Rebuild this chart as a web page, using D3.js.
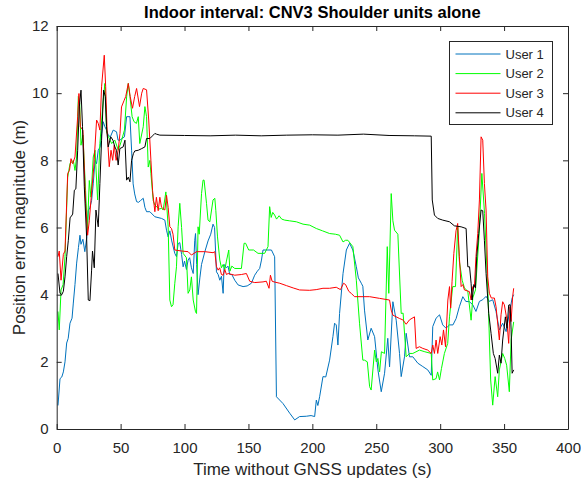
<html>
<head>
<script src="https://d3js.org/d3.v7.min.js"></script>
<style>
body { margin: 0; background: white; }
text { font-family: 'Liberation Sans', Arial, sans-serif; fill: #262626; }
</style>
</head>
<body>
<svg id="chart" width="581" height="480"></svg>
<script>
// [time (s), position error (m)]
const user1 = [[1,0.7],[2.6,1.5],[4,1.55],[5.2,1.7],[6.5,2.0],[7.8,2.56],[9,2.7],[10.4,3.15],[12,3.3],[13,3.75],[14.3,4.3],[15.6,4.94],[17,5.4],[18.2,5.77],[19,5.5],[20.5,5.65],[22,5.28],[23.5,5.7],[24.7,6.5],[26,6.6],[27.3,6.8],[28.6,7.3],[30,8.0],[31.2,7.9],[32.5,8.3],[34,8.4],[35.2,8.8],[36.4,9.15],[37.7,9.0],[39,8.9],[40.3,8.75],[42,8.7],[44.2,8.9],[46.8,8.85],[48,8.6],[49.5,8.6],[51,8.65],[53,8.7],[54.7,9.3],[57.3,9.3],[58.6,8.3],[59.8,7.3],[61,7.0],[62.5,6.77],[64,6.75],[65.5,6.8],[67.7,6.87],[69,6.6],[70.3,6.47],[72.9,6.47],[76.8,6.32],[82,6.27],[84.6,6.22],[85.9,5.92],[87.2,5.72],[88.5,5.9],[90,5.6],[92.4,5.23],[93.7,5.13],[95,5.52],[96.3,5.55],[97.7,5.2],[98.9,4.83],[100,5.0],[101.5,4.75],[102.8,5.03],[104,5.1],[105.4,4.8],[106.8,4.63],[108,5.62],[108.6,5.82],[109.5,4.9],[110.6,4.0],[112,4.5],[113.3,4.9],[115.9,5.28],[118.4,5.6],[120.5,5.8],[122.3,6.1],[123.5,6.0],[125,4.68],[126.3,4.6],[127.6,4.43],[128.9,4.55],[130.2,4.04],[131,4.9],[132.8,4.8],[134,4.85],[135.4,4.6],[137,4.6],[139.3,4.43],[141.9,4.29],[145.8,4.24],[149,4.26],[152.3,4.34],[154.9,4.58],[157,4.7],[158.8,4.78],[160.2,5.03],[161.4,5.33],[164,5.33],[168,5.33],[170.5,5.13],[171.9,0.96],[177,0.76],[182.3,0.47],[186.2,0.27],[190,0.37],[195.3,0.38],[199,0.4],[201.8,0.37],[203.1,0.86],[204.3,0.7],[205.7,0.96],[208.3,1.56],[210.5,1.55],[213.5,2.05],[216.1,2.75],[217.4,3.15],[218.7,3.1],[220,2.5],[221.3,3.44],[224,4.63],[226.6,5.33],[229.1,5.53],[231.7,5.33],[234.4,4.83],[236,4.5],[238.3,4.34],[239.5,4.25],[240.8,3.54],[243.4,2.65],[246,3.0],[248.7,2.75],[251.3,1.76],[253.9,1.11],[256.5,1.66],[259,2.7],[260.4,1.85],[263,3.79],[265.6,3.24],[268.2,2.25],[269.5,1.56],[272.1,2.15],[273.4,2.85],[276,2.15],[278.6,2.15],[282.5,1.96],[286.4,1.86],[290.3,1.76],[293,1.6],[294.2,3.05],[296.8,3.3],[299.5,3.4],[302,3.1],[304.6,3.0],[307.3,3.1],[310,3.1],[312.5,3.29],[315,3.64],[317.7,3.94],[320,3.8],[322.9,3.79],[325.5,3.7],[328,3.5],[330.7,3.8],[333.3,3.85],[335.9,3.95],[338.5,3.8],[341.1,3.85],[343.7,3.5],[346.3,2.95],[348.9,3.15],[351.6,2.9],[354.1,3.45],[356.3,3.9],[357.5,4.0]];

const user2 = [[1,3.5],[2,2.95],[3.4,4.14],[5,4.3],[6.5,5.13],[8.6,7.5],[10.4,7.9],[13,8.0],[14.3,7.7],[15.6,8.1],[16.9,9.9],[18,9.7],[19,8.45],[20.5,8.75],[22.6,7.1],[24,5.92],[25.5,7.4],[26.8,6.9],[28.6,8.1],[30,8.3],[32,6.82],[33.8,8.5],[36.4,9.79],[37.7,10.29],[39,8.85],[40.5,8.7],[43,8.5],[45.5,8.6],[48.2,8.3],[50.8,8.6],[53,8.9],[54.7,9.89],[56,10.29],[57.3,9.9],[59,9.3],[60.5,9.15],[62.4,9.1],[63.8,9.3],[65,8.5],[67.7,9.0],[69,9.6],[70.3,9.3],[71.6,7.8],[72.9,8.0],[73.7,7.6],[75.5,6.8],[76.8,6.67],[80,6.55],[82,6.57],[83.3,6.52],[85.4,7.06],[87.2,6.02],[88.5,3.84],[89.8,3.64],[91,3.7],[92.4,4.34],[93.7,4.83],[95,6.02],[96.3,6.72],[97.7,6.0],[98.9,5.23],[101.5,5.1],[102.8,4.04],[104.1,4.14],[105.4,4.53],[106.8,3.84],[108.6,3.49],[109.4,3.44],[110.6,6.02],[111.5,5.8],[113.3,7.01],[114.5,7.41],[115.3,7.41],[117.2,6.72],[118.4,6.22],[119.8,6.17],[122.3,6.82],[123.7,6.87],[124.5,6.5],[125.8,5.72],[127.6,5.03],[128.9,4.8],[130.2,4.9],[131.5,4.75],[132.8,5.0],[134.6,5.33],[135.5,4.7],[137,4.85],[139.3,4.78],[144.5,4.78],[146.6,5.53],[147.8,5.53],[150.2,5.33],[154,5.33],[157.5,5.23],[161.4,5.23],[162.7,5.23],[165.3,5.43],[166.6,6.62],[167.8,6.3],[169,6.45],[170.5,6.37],[172,6.25],[174,6.35],[176,6.25],[178.4,6.22],[182,6.2],[187.5,6.17],[192.7,6.1],[197.9,6.07],[203.1,5.97],[208,5.9],[213.5,5.82],[218,5.8],[221.3,5.77],[224,5.57],[226,5.62],[227.8,5.62],[231.7,5.43],[234.4,4.43],[236.9,3.15],[239.5,2.05],[240.8,2.05],[243,2.0],[244.8,1.26],[246,1.16],[248.7,2.35],[250,2.0],[251.3,2.1],[252.6,1.7],[254,2.3],[256.5,2.25],[258.6,5.43],[259.8,4.04],[261.7,7.01],[263,6.2],[264.3,5.92],[266.9,5.8],[269.5,3.44],[271,3.45],[273.4,2.15],[276,2.25],[278.6,2.25],[283.8,2.35],[288,2.3],[293,2.25],[294.2,1.46],[296.8,1.5],[298,1.7],[299.5,1.46],[301,1.8],[303.3,2.25],[305.9,2.55],[307.3,3.34],[309.8,4.24],[312,4.24],[313.7,6.02],[315,5.0],[317.2,4.43],[319,4.2],[321.6,4.1],[324.2,3.24],[325.5,3.9],[327.6,4.14],[330.2,5.62],[332.6,7.61],[334.7,6.42],[337.4,4.04],[339.5,1.46],[341.1,0.71],[343,1.56],[345,0.96],[346.3,1.76],[348.9,2.25],[350.5,2.1],[352,1.9],[354.1,1.11],[355.5,2.65],[357.5,3.19]];

const user3 = [[1,5.13],[2,5.3],[3.4,4.43],[5.2,5.2],[6.5,5.3],[8.6,7.61],[10,7.7],[11.2,8.05],[12.5,7.9],[14.3,8.1],[16.4,9.3],[17.4,9.99],[18.5,9.0],[20.5,8.9],[22.6,6.72],[24.2,5.77],[25.5,6.2],[27,6.9],[29,7.8],[31.2,9.2],[32.5,9.1],[33.8,8.9],[35.1,10.19],[37.2,11.13],[38.3,10.2],[39.4,8.9],[41.1,7.81],[42.5,8.3],[43.8,8.0],[45,8.45],[46.5,8.0],[48.1,8.3],[49.5,8.8],[50.7,9.59],[52.8,9.79],[54,9.9],[56,10.29],[57.5,9.9],[59.3,9.55],[61,9.9],[62.5,10.14],[64.8,9.6],[66.5,10.0],[67.7,10.14],[70.3,10.1],[72,9.2],[73.7,8.0],[75,7.1],[75.5,6.91],[76.8,6.47],[78,6.9],[79.4,6.5],[80.7,6.9],[82,6.6],[84.6,6.52],[85.9,6.96],[87.2,6.6],[88.5,6.02],[89.8,5.97],[91,5.8],[92.4,5.33],[97.7,5.3],[102.8,5.28],[105.4,5.18],[109.4,5.28],[115.9,5.28],[122.3,5.25],[123.7,5.28],[125,4.83],[126.3,4.73],[127.5,4.8],[128.9,4.6],[130.2,4.58],[131.5,4.75],[132.8,4.6],[134.1,4.63],[139.3,4.58],[144.5,4.6],[148.4,4.63],[151,4.4],[154.9,4.36],[161.4,4.38],[164,4.4],[166.1,4.19],[167.2,4.58],[168.5,4.4],[170,4.38],[174.5,4.34],[179.7,4.27],[185,4.2],[190,4.14],[197.9,4.13],[203,4.15],[208.3,4.19],[213.5,4.19],[218.7,4.22],[222,4.15],[224.4,4.34],[226,4.3],[228.5,4.1],[230.4,4.04],[233,3.94],[240,3.94],[244.8,3.94],[252.6,3.89],[260.4,3.84],[261.7,3.54],[263,3.39],[268.2,3.29],[270.8,3.25],[273.4,3.12],[276,3.25],[279.9,3.34],[281.2,2.4],[283.8,2.45],[286.4,2.4],[290.3,2.35],[293,2.25],[294.2,2.5],[295.5,2.25],[296.8,2.65],[298.1,2.25],[300,2.75],[301.3,2.5],[302.6,2.95],[304.2,2.45],[306,3.84],[307.3,4.24],[308.2,3.6],[309.3,4.4],[310.7,5.23],[312.4,5.9],[313.7,6.12],[315,5.13],[316.4,4.24],[317.7,4.3],[319,4.14],[322.9,4.09],[324.2,3.84],[325.5,4.24],[326.8,4.24],[328,5.13],[329.4,5.82],[330.7,6.82],[332,8.7],[333.3,8.6],[334.6,7.31],[335.9,6.52],[337.2,4.53],[338.5,4.04],[340,3.9],[342.4,3.9],[343.7,3.64],[346.3,2.65],[347.6,3.4],[348.9,3.79],[350.2,3.7],[352,3.3],[353.6,2.55],[354.7,3.64],[355.5,3.2],[356.7,3.94],[357.5,4.19]];

const user4 = [[1,4.63],[2.6,4.04],[4,4.0],[5.2,4.1],[6.5,4.53],[7.8,5.13],[9.1,5.62],[10.5,6.3],[11.2,6.32],[12.5,6.4],[13.8,7.11],[15,7.15],[16.4,8.3],[17.7,9.59],[19,10.09],[20.2,9.0],[21.6,7.21],[23.4,5.72],[24.7,3.84],[26,3.82],[27.3,4.73],[28,5.3],[29.4,4.8],[30.7,6.52],[32.5,6.02],[33.8,7.31],[35.1,8.6],[36.7,10.09],[38,9.9],[39,9.0],[40.3,8.4],[42.3,8.7],[44,8.6],[45.5,8.4],[46.8,8.3],[48.1,7.86],[49.4,8.35],[52,8.4],[53.4,8.6],[54.7,7.41],[56,7.5],[57.3,7.36],[58.6,8.0],[60,8.2],[61.1,8.28],[63.8,8.3],[66.5,8.35],[69,8.4],[70.3,8.65],[72.9,8.65],[75.5,8.75],[76.8,8.8],[78,8.78],[80.7,8.75],[100,8.74],[120,8.73],[140,8.75],[160,8.73],[180,8.75],[200,8.76],[220,8.75],[240,8.78],[260,8.74],[280,8.73],[293,8.72],[293.8,6.82],[295.5,6.37],[298.1,6.27],[302,6.22],[307.3,6.17],[311.1,6.05],[316.4,6.02],[320.3,5.97],[321.6,4.83],[323,4.83],[324.2,4.34],[325,3.84],[326.3,4.3],[327.6,4.2],[328.6,5.13],[330.2,5.82],[332,6.52],[333.3,6.5],[334.6,5.62],[335.9,4.63],[338,3.44],[339.8,2.85],[341.6,2.25],[343,2.1],[345,1.66],[346.3,2.2],[347.6,1.96],[348.9,2.65],[351,3.34],[352.3,3.0],[353.6,3.69],[354.7,3.7],[355.5,2.95],[356.3,1.66],[357.5,1.76]];

const seriesNames = ["User 1", "User 2", "User 3", "User 4"];
const seriesColors = ["#0072BD", "#00FF00", "#FF0000", "#000000"];
const xTicks = [0, 50, 100, 150, 200, 250, 300, 350, 400];
const yTicks = [0, 2, 4, 6, 8, 10, 12];

const svg = d3.select("#chart");
const plotL = 56.7, plotR = 568, plotT = 26, plotB = 429;

var x = d3.scaleLinear().domain([0, 400]).range([plotL, plotR]);
var y = d3.scaleLinear().domain([0, 12]).range([plotB, plotT]);

svg.append("rect")
  .attr("x", plotL).attr("y", plotT)
  .attr("width", plotR - plotL).attr("height", plotB - plotT)
  .attr("fill", "white");

// lines
const line = d3.line().x(d => x(d[0])).y(d => y(d[1]));
[user1, user2, user3, user4].forEach((s, i) => {
  svg.append("path")
    .datum(s)
    .attr("fill", "none")
    .attr("stroke", seriesColors[i])
    .attr("stroke-width", 1)
    .attr("stroke-linejoin", "round")
    .attr("d", line);
});

// axes, ticks pointing inward like matlab
function styleAxis(g) {
  g.select(".domain").attr("stroke", "#262626");
  g.selectAll(".tick line").attr("stroke", "#262626");
  g.selectAll(".tick text").style("font-size", "15px").attr("fill", "#262626")
    .style("font-family", "'Liberation Sans', Arial, sans-serif");
}

const xAxis = svg.append("g")
  .attr("transform", `translate(0,${plotB})`)
  .call(d3.axisBottom(x).tickValues(xTicks).tickSizeInner(-5).tickSizeOuter(0).tickPadding(13));
styleAxis(xAxis);

const xTop = svg.append("g")
  .attr("transform", `translate(0,${plotT})`)
  .call(d3.axisTop(x).tickValues(xTicks).tickSizeInner(-5).tickSizeOuter(0).tickFormat(""));
styleAxis(xTop);

const yAxis = svg.append("g")
  .attr("transform", `translate(${plotL},0)`)
  .call(d3.axisLeft(y).tickValues(yTicks).tickSizeInner(-5).tickSizeOuter(0).tickPadding(8));
styleAxis(yAxis);

const yRight = svg.append("g")
  .attr("transform", `translate(${plotR},0)`)
  .call(d3.axisRight(y).tickValues(yTicks).tickSizeInner(-5).tickSizeOuter(0).tickFormat(""));
styleAxis(yRight);

// title and labels
svg.append("text")
  .attr("x", (plotL + plotR) / 2).attr("y", 18)
  .attr("text-anchor", "middle")
  .style("font-size", "16.5px").style("font-weight", "bold")
  .style("fill", "#000")
  .text("Indoor interval: CNV3 Shoulder units alone");

svg.append("text")
  .attr("x", (plotL + plotR) / 2).attr("y", 475)
  .attr("text-anchor", "middle")
  .style("font-size", "17px")
  .text("Time without GNSS updates (s)");

svg.append("text")
  .attr("transform", `translate(25,${(plotT + plotB) / 2}) rotate(-90)`)
  .attr("text-anchor", "middle")
  .style("font-size", "17px")
  .text("Position error magnitude (m)");

// legend
const legend = svg.append("g").attr("transform", "translate(449.5,41.5)");
legend.append("rect")
  .attr("width", 103).attr("height", 83)
  .attr("fill", "white").attr("stroke", "#262626").attr("stroke-width", 1);

seriesNames.forEach((name, i) => {
  const ry = 12.5 + i * 19.6;
  legend.append("line")
    .attr("x1", 6).attr("x2", 51).attr("y1", ry).attr("y2", ry)
    .attr("stroke", seriesColors[i]).attr("stroke-width", 1);
  legend.append("text")
    .attr("x", 56).attr("y", ry + 4.5)
    .style("font-size", "13px")
    .text(name);
});
</script>
</body>
</html>
